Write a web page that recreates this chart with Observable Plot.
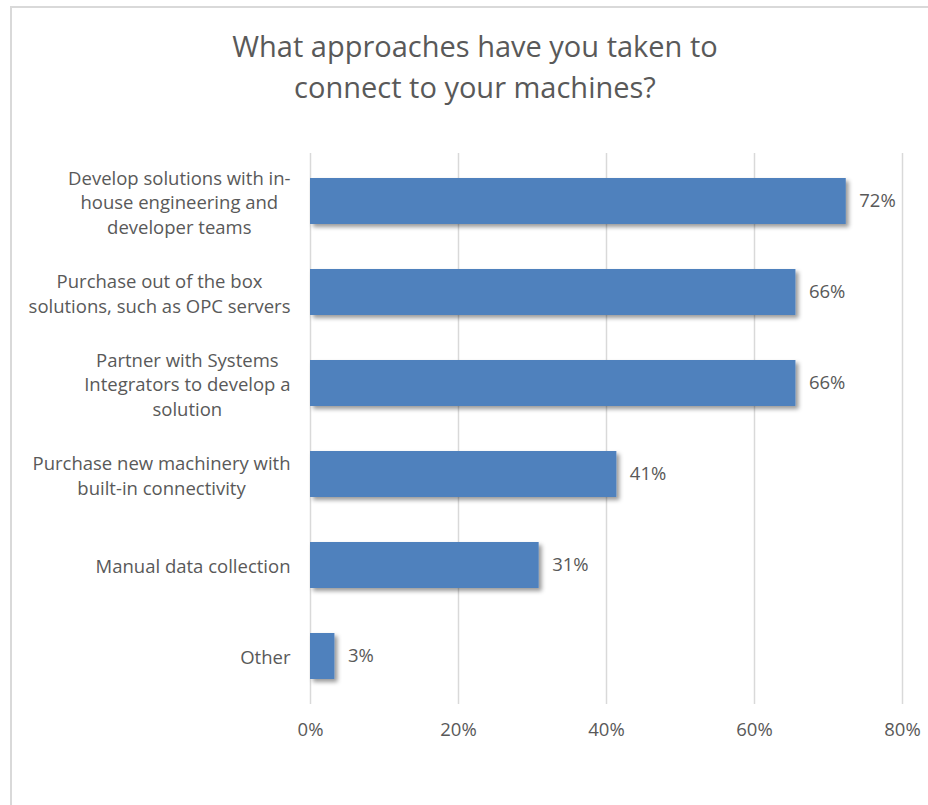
<!DOCTYPE html>
<html>
<head>
<meta charset="utf-8">
<script src="https://cdn.jsdelivr.net/npm/d3@7"></script>
<script src="https://cdn.jsdelivr.net/npm/@observablehq/plot@0.6"></script>
<style>
  html, body { margin: 0; padding: 0; background: #fff; }
  body { width: 928px; height: 805px; position: relative; overflow: hidden; font-family: "Open Sans", sans-serif; }
  #frame { position: absolute; left: 10px; top: 6px; width: 1000px; height: 900px; border-left: 2px solid #d9d9d9; border-top: 2px solid #d9d9d9; box-sizing: border-box; }
  #title { position: absolute; left: 0; width: 950px; top: 25px; text-align: center; color: #595959; font-size: 29px; line-height: 41px; font-family: "Open Sans", sans-serif; }
  #chart { position: absolute; left: 0; top: 0; }
</style>
</head>
<body>
<div id="frame"></div>
<div id="title">What approaches have you taken to<br>connect to your machines?</div>
<div id="chart"></div>
<script>
const categories = [
  "Develop solutions with in-\nhouse engineering and\ndeveloper teams",
  "Purchase out of the box\nsolutions, such as OPC servers",
  "Partner with Systems\nIntegrators to develop a\nsolution",
  "Purchase new machinery with\nbuilt-in connectivity",
  "Manual data collection",
  "Other"
];
const values = [72.4, 65.6, 65.6, 41.4, 30.9, 3.3];
const xTicks = [0, 20, 40, 60, 80];

const data = categories.map((c, i) => ({category: c, value: values[i]}));
const FS = 18.5;
const FONT = `${FS}px "Open Sans"`;
const ctx = document.createElement("canvas").getContext("2d");
ctx.font = FONT;
const blockWidth = c => d3.max(c.split("\n"), l => ctx.measureText(l).width);

const labelMarks = data.map(d =>
  Plot.text([d], {
    x: () => 0, y: "category", text: "category",
    textAnchor: "middle", dx: -(20 + blockWidth(d.category) / 2),
    lineHeight: 1.32, fontSize: FS, fill: "#595959", fontFamily: "Open Sans"
  })
);

const chart = Plot.plot({
  width: 928,
  height: 760,
  marginLeft: 310,
  marginRight: 26,
  marginTop: 153,
  marginBottom: 56,
  style: {fontFamily: "Open Sans", fontSize: FS + "px", color: "#595959", background: "transparent"},
  x: {domain: [0, 80], ticks: xTicks, tickFormat: d => d + "%", label: null},
  y: {domain: categories, paddingInner: 0.5, paddingOuter: 0.25, axis: null},
  marks: [
    Plot.ruleX(xTicks, {stroke: "#d9d9d9", strokeWidth: 1.5}),
    Plot.axisX({ticks: xTicks, tickFormat: d => d + "%", tickSize: 0, tickPadding: 18, fontSize: FS, fill: "#595959", label: null}),
    Plot.barX(data, {x: "value", y: "category", fill: "#4f81bd"}),
    Plot.text(data, {x: "value", y: "category", text: d => d3.format(".0f")(d.value) + "%", dx: 13, textAnchor: "start", fontSize: FS, fill: "#595959"}),
    ...labelMarks
  ]
});
document.getElementById("chart").append(chart);

// drop shadow on bars
const svg = d3.select(chart);
const defs = svg.insert("defs", ":first-child");
const f = defs.append("filter").attr("id", "barShadow").attr("x", "-10%").attr("y", "-30%").attr("width", "130%").attr("height", "180%");
f.append("feDropShadow").attr("dx", 3).attr("dy", 3).attr("stdDeviation", 2).attr("flood-color", "#000").attr("flood-opacity", 0.4);
svg.selectAll('g[aria-label="bar"]').attr("filter", "url(#barShadow)");
</script>
</body>
</html>
